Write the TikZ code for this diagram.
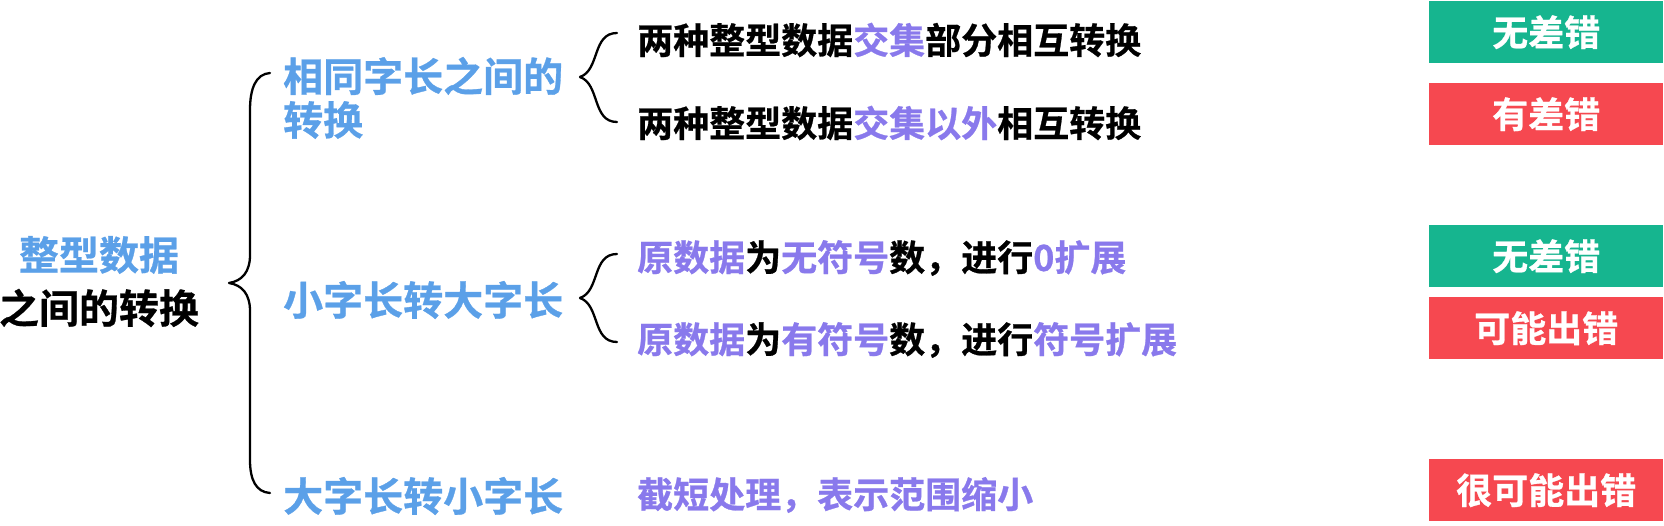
\documentclass[tikz,border=0pt]{standalone}
\usepackage{fontspec}
\newfontfamily\cjk{Noto Sans CJK SC}[UprightFont=* Bold, UprightFeatures={FakeBold=0.7}]
\definecolor{lblue}{RGB}{91,160,232}
\definecolor{lpurp}{RGB}{137,121,236}
\definecolor{okgreen}{RGB}{22,181,143}
\definecolor{errred}{RGB}{246,72,80}
\begin{document}
\begin{tikzpicture}[x=1pt,y=-1pt,
  txt/.style={inner sep=0pt, anchor=west, font=\cjk\fontsize{40}{44}\selectfont},
  sub/.style={inner sep=0pt, anchor=west, font=\cjk\fontsize{36}{40}\selectfont},
  tag/.style={minimum width=234pt, minimum height=62pt, inner sep=0pt, text=white,
              font=\cjk\fontsize{36}{40}\selectfont, anchor=north west},
  bracestroke/.style={line width=2.3pt, line cap=round, line join=round}]

\useasboundingbox[fill=white] (0,0) rectangle (1664,526);

% root
\node[txt, text=lblue, anchor=center] (root1) at (99,255) {整型数据};
\node[txt, anchor=center] (root2) at (99,308) {之间的转换};

% level 2
\node[txt, text=lblue] (same1) at (283,76) {相同字长之间的};
\node[txt, text=lblue] (same2) at (283,120) {转换};
\node[txt, text=lblue] (s2l) at (283,300) {小字长转大字长};
\node[txt, text=lblue] (l2s) at (283,496) {大字长转小字长};

% level 3
\node[sub] (d1) at (637,40) {两种整型数据{\color{lpurp}交集}部分相互转换};
\node[sub] (d2) at (637,123) {两种整型数据{\color{lpurp}交集以外}相互转换};
\node[sub] (d3) at (637,258) {{\color{lpurp}原数据}为{\color{lpurp}无符号}数，进行{\color{lpurp}0扩展}};
\node[sub] (d4) at (637,340) {{\color{lpurp}原数据}为{\color{lpurp}有符号}数，进行{\color{lpurp}符号扩展}};
\node[sub, text=lpurp] (d5) at (637,495) {截短处理，表示范围缩小};

% result tags
\node[tag, fill=okgreen] (r1) at (1429,1) {无差错};
\node[tag, fill=errred] (r2) at (1429,83) {有差错};
\node[tag, fill=okgreen] (r3) at (1429,225) {无差错};
\node[tag, fill=errred] (r4) at (1429,297) {可能出错};
\node[tag, fill=errred] (r5) at (1429,459) {很可能出错};

% big brace
\draw[bracestroke] (270,73) .. controls (256,74) and (250,88) .. (250,110)
  -- (250,255) .. controls (250,272) and (242,281) .. (229,283)
  .. controls (242,285) and (250,294) .. (250,311)
  -- (250,460) .. controls (250,480) and (256,492) .. (270,493);

% small braces
\draw[bracestroke] (617,33) .. controls (592,33) and (600,70) .. (580,77)
  .. controls (600,84) and (592,122) .. (617,122);
\draw[bracestroke] (617,254) .. controls (592,254) and (600,291) .. (580,298)
  .. controls (600,305) and (592,342) .. (617,342);
\end{tikzpicture}
\end{document}
